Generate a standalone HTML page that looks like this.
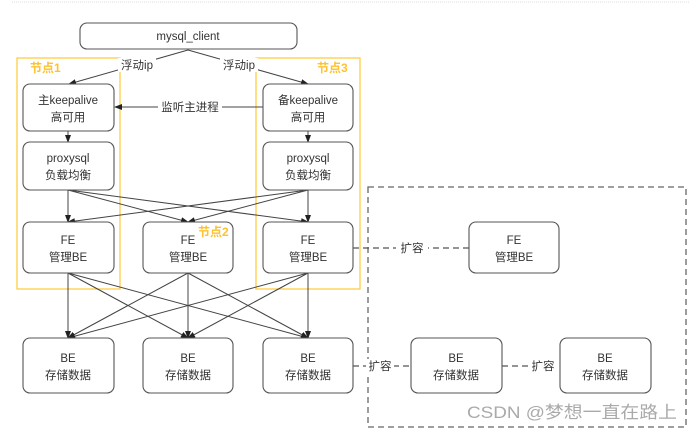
<!DOCTYPE html>
<html><head><meta charset="utf-8"><style>
html,body{margin:0;padding:0;background:#fff;}
svg{display:block;}
text{font-family:"Liberation Sans","Noto Sans CJK SC",sans-serif;font-size:11.5px;fill:#333;}
</style></head><body>
<svg width="693" height="433" viewBox="0 0 693 433" xmlns="http://www.w3.org/2000/svg">
<defs>
<marker id="a" markerWidth="8" markerHeight="8" refX="7" refY="4" orient="auto" markerUnits="userSpaceOnUse">
<path d="M0,1 L8,4 L0,7 Z" fill="#222"/></marker>
</defs>
<line x1="12" y1="2" x2="690" y2="2" stroke="#ddd" stroke-width="1" stroke-dasharray="1,1"/>
<rect x="368" y="187" width="318" height="240" fill="none" stroke="#666" stroke-width="1.3" stroke-dasharray="6,4"/>
<rect x="17" y="58" width="103" height="231" fill="none" stroke="#ffcc44" stroke-width="1.3"/>
<rect x="256" y="58" width="104" height="231" fill="none" stroke="#ffcc44" stroke-width="1.3"/>
<g stroke="#444" stroke-width="1" fill="none">
<line x1="188" y1="50" x2="69" y2="84" marker-end="url(#a)"/>
<line x1="188" y1="50" x2="308" y2="84" marker-end="url(#a)"/>
<line x1="263" y1="107" x2="115" y2="107" marker-end="url(#a)"/>
<line x1="68" y1="131" x2="68" y2="142" marker-end="url(#a)"/>
<line x1="308" y1="131" x2="308" y2="142" marker-end="url(#a)"/>
<line x1="68" y1="190" x2="68" y2="222" marker-end="url(#a)"/>
<line x1="68" y1="190" x2="188" y2="222" marker-end="url(#a)"/>
<line x1="68" y1="190" x2="308" y2="222" marker-end="url(#a)"/>
<line x1="308" y1="190" x2="68" y2="222" marker-end="url(#a)"/>
<line x1="308" y1="190" x2="188" y2="222" marker-end="url(#a)"/>
<line x1="308" y1="190" x2="308" y2="222" marker-end="url(#a)"/>
<line x1="68" y1="273" x2="68" y2="338" marker-end="url(#a)"/>
<line x1="68" y1="273" x2="188" y2="338" marker-end="url(#a)"/>
<line x1="68" y1="273" x2="308" y2="338" marker-end="url(#a)"/>
<line x1="188" y1="273" x2="68" y2="338" marker-end="url(#a)"/>
<line x1="188" y1="273" x2="188" y2="338" marker-end="url(#a)"/>
<line x1="188" y1="273" x2="308" y2="338" marker-end="url(#a)"/>
<line x1="308" y1="273" x2="68" y2="338" marker-end="url(#a)"/>
<line x1="308" y1="273" x2="188" y2="338" marker-end="url(#a)"/>
<line x1="308" y1="273" x2="308" y2="338" marker-end="url(#a)"/>
</g>
<g stroke="#555" stroke-width="1.2" stroke-dasharray="6,4">
<line x1="353" y1="248" x2="469" y2="248"/>
<line x1="353" y1="366" x2="411" y2="366"/>
<line x1="502" y1="366" x2="560" y2="366"/>
</g>
<g fill="#fff" stroke="#555" stroke-width="1.1">
<rect x="80" y="23" width="217" height="26" rx="7"/>
<rect x="23" y="84" width="91" height="47" rx="7"/>
<rect x="23" y="142" width="91" height="48" rx="7"/>
<rect x="263" y="84" width="90" height="47" rx="7"/>
<rect x="263" y="142" width="90" height="48" rx="7"/>
<rect x="23" y="222" width="91" height="51" rx="7"/>
<rect x="143" y="222" width="90" height="51" rx="7"/>
<rect x="263" y="222" width="90" height="51" rx="7"/>
<rect x="469" y="222" width="90" height="51" rx="7"/>
<rect x="23" y="338" width="91" height="55" rx="7"/>
<rect x="143" y="338" width="90" height="55" rx="7"/>
<rect x="263" y="338" width="90" height="55" rx="7"/>
<rect x="411" y="338" width="91" height="55" rx="7"/>
<rect x="560" y="338" width="91" height="55" rx="7"/>
</g>
<g fill="#fff">
<rect x="118" y="58" width="38" height="14"/>
<rect x="220" y="58" width="38" height="14"/>
<rect x="158" y="100" width="64" height="14"/>
<rect x="396" y="241" width="32" height="14"/>
<rect x="366" y="359" width="28" height="14"/>
<rect x="528" y="359" width="30" height="14"/>
</g>
<g text-anchor="middle">
<text x="188" y="40">mysql_client</text>
<text x="137" y="69">浮动ip</text>
<text x="239" y="69">浮动ip</text>
<text x="190" y="111">监听主进程</text>
<text x="68" y="104">主keepalive</text><text x="68" y="121">高可用</text>
<text x="308" y="104">备keepalive</text><text x="308" y="121">高可用</text>
<text x="68" y="162">proxysql</text><text x="68" y="179">负载均衡</text>
<text x="308" y="162">proxysql</text><text x="308" y="179">负载均衡</text>
<text x="68" y="244">FE</text><text x="68" y="261">管理BE</text>
<text x="188" y="244">FE</text><text x="188" y="261">管理BE</text>
<text x="308" y="244">FE</text><text x="308" y="261">管理BE</text>
<text x="514" y="244">FE</text><text x="514" y="261">管理BE</text>
<text x="68" y="362">BE</text><text x="68" y="379">存储数据</text>
<text x="188" y="362">BE</text><text x="188" y="379">存储数据</text>
<text x="308" y="362">BE</text><text x="308" y="379">存储数据</text>
<text x="456" y="362">BE</text><text x="456" y="379">存储数据</text>
<text x="605" y="362">BE</text><text x="605" y="379">存储数据</text>
<text x="412" y="252">扩容</text>
<text x="380" y="370">扩容</text>
<text x="543" y="370">扩容</text>
</g>
<g font-weight="bold">
<text x="30" y="72" style="fill:#ffc22e;font-size:12px">节点1</text>
<text x="317" y="72" style="fill:#ffc22e;font-size:12px">节点3</text>
<text x="198" y="236" style="fill:#ffc22e;font-size:12px">节点2</text>
</g>
<text x="467" y="418" textLength="210" lengthAdjust="spacingAndGlyphs" style="fill:#aaa;font-size:17px">CSDN @梦想一直在路上</text>
</svg>
</body></html>
